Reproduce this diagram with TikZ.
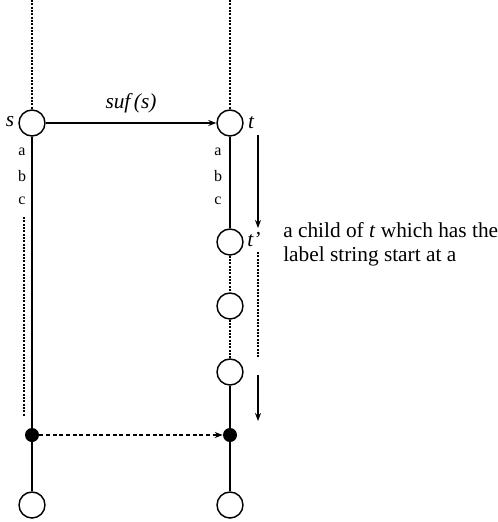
\documentclass[tikz,border=0pt]{standalone}
\usepackage{fontspec}
\setmainfont{Liberation Serif}
\usetikzlibrary{arrows.meta}
\begin{document}
\begin{tikzpicture}[x=0.75pt,y=-0.75pt,
  every node/.style={inner sep=0pt},
  hollow/.style={circle,draw,line width=1.1pt,minimum size=19.5pt,fill=white},
  solid dot/.style={circle,fill=black,minimum size=10.5pt},
  edge/.style={line width=0.9pt},
  dotline/.style={line width=1.2pt,dash pattern=on 1.5pt off 1pt},
  dashline/.style={line width=1.1pt,dash pattern=on 3pt off 2pt},
  tip/.style={-{Stealth[length=6pt,width=4.5pt]}},
  edgelbl/.style={font=\fontsize{12}{14}\selectfont},
  txt/.style={font=\fontsize{16}{18}\selectfont},
  itxt/.style={font=\fontsize{16}{18}\selectfont\itshape}]
\useasboundingbox (0,0) rectangle (497,522);

% tree nodes
\node[hollow] (s) at (32,123) {};
\node[hollow] (t) at (230,123) {};
\node[hollow] (t1) at (230,242) {};
\node[hollow] (m1) at (230,306) {};
\node[hollow] (m2) at (230,372) {};
\node[solid dot] (ls) at (32,435) {};
\node[solid dot] (rt) at (230,435) {};
\node[hollow] (lb) at (32,505) {};
\node[hollow] (rb) at (230,505) {};
\coordinate (stop) at (32,0);
\coordinate (ttop) at (230,0);

% edges
\draw[dotline] (stop) -- (s.north);
\draw[dotline] (ttop) -- (t.north);
\draw[edge] (s.south) -- (ls);
\draw[edge] (ls) -- (lb.north);
\draw[edge] (t.south) -- (t1.north);
\draw[dotline] (t1.south) -- (m1.north);
\draw[dotline] (m1.south) -- (m2.north);
\draw[edge] (m2.south) -- (rt);
\draw[edge] (rt) -- (rb.north);

% suffix links
\draw[edge,line width=1.3pt,tip] (s.east) -- node[above=7pt,itxt] {suf\,(s)} (t.west);
\draw[dashline,tip] (ls.east) -- (rt.west);

% traversal markers
\coordinate (a1) at (258,135);
\coordinate (a2) at (258,228);
\coordinate (d1) at (258,252);
\coordinate (d2) at (258,358);
\coordinate (b1) at (258,375);
\coordinate (b2) at (258,421);
\coordinate (e1) at (24,217);
\coordinate (e2) at (24,417);
\draw[edge,line width=1.3pt,tip] (a1) -- (a2);
\draw[dotline,line width=1pt] (d1) -- (d2);
\draw[edge,line width=1.3pt,tip] (b1) -- (b2);
\draw[dotline] (e1) -- (e2);

% labels
\node[itxt] (ls1) at (10,122) {s};
\node[itxt] (lt1) at (251,123) {t};
\node[itxt] (lt2) at (254,240) {t’};
\foreach \y/\c [count=\i] in {152/a,176/b,201/c}{
  \node[edgelbl] (la\i) at (22,\y) {\c};
  \node[edgelbl] (ra\i) at (218,\y) {\c};
}
\node[txt,anchor=west,align=left] (note) at (283,244)
  {a child of \textit{t} which has the\\label string start at a};
\end{tikzpicture}
\end{document}
